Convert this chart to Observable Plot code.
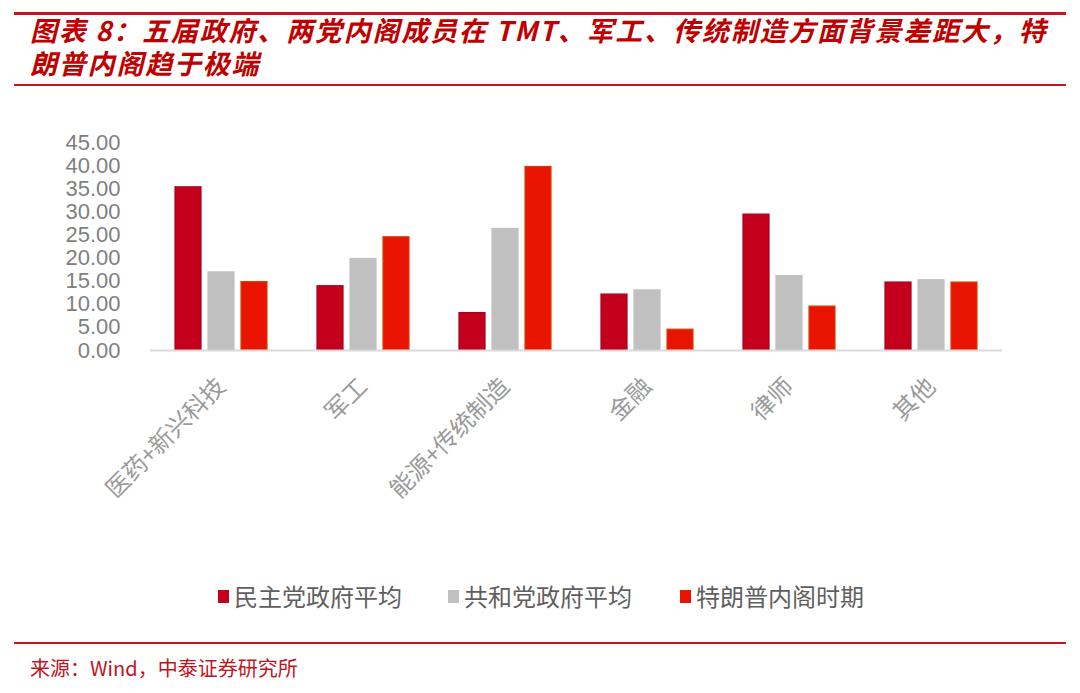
<!DOCTYPE html>
<html><head><meta charset="utf-8">
<script src="https://cdn.jsdelivr.net/npm/d3@7"></script>
<script src="https://cdn.jsdelivr.net/npm/@observablehq/plot@0.6"></script>
<style>
body{margin:0;background:#fff;width:1080px;height:693px;position:relative;overflow:hidden;font-family:"Noto Sans CJK SC",sans-serif}
.rule{position:absolute;left:14px;width:1052px;background:#c8141e}
.title{position:absolute;left:30px;color:#c00000;font-weight:bold;font-style:italic;font-size:27px;line-height:30px;height:30px;white-space:nowrap;letter-spacing:1.8px}
#chart{position:absolute;left:0;top:100px}
#legend{position:absolute;top:578px;left:0;width:1080px;height:36px}
.li{position:absolute;top:0;display:flex;align-items:center;font-size:24px;color:#5f5f5f;line-height:36px}
.sw{display:inline-block;width:11px;height:13px;margin-right:5px}
#source{position:absolute;left:30px;top:653px;color:#c0141e;font-size:20px;font-family:"Noto Sans CJK SC",serif}
</style></head>
<body>
<div class="rule" style="top:12px;height:3px"></div>
<div class="title" style="top:15px">图表 8：五届政府、两党内阁成员在 TMT、军工、传统制造方面背景差距大，特</div>
<div class="title" style="top:48px">朗普内阁趋于极端</div>
<div class="rule" style="top:84px;height:2px"></div>
<div id="chart"></div>
<div id="legend"></div>
<div class="rule" style="top:642px;height:2px"></div>
<div id="source">来源：Wind，中泰证券研究所</div>
<script>
const categories = ["医药+新兴科技", "军工", "能源+传统制造", "金融", "律师", "其他"];
const seriesNames = ["民主党政府平均", "共和党政府平均", "特朗普内阁时期"];
const demValues = [35.3, 13.9, 8.1, 12.1, 29.4, 14.7];
const repValues = [16.9, 19.8, 26.3, 13.0, 16.1, 15.2];
const trumpValues = [14.8, 24.5, 39.7, 4.5, 9.5, 14.7];
const yTicks = [0, 5, 10, 15, 20, 25, 30, 35, 40, 45];
const colors = ["#c4001c", "#c0c0c0", "#e81400"];
const strokes = ["#a8001e", "#c0c0c0", "#d84000"];

const data = [];
categories.forEach((c, i) => {
  [demValues, repValues, trumpValues].forEach((arr, k) => {
    data.push({category: c, series: seriesNames[k], value: arr[i]});
  });
});

const chart = Plot.plot({
  width: 1080,
  height: 420,
  marginLeft: 150,
  marginRight: 78,
  marginTop: 42,
  marginBottom: 170,
  style: {background: "transparent", fontFamily: "Noto Sans CJK SC, sans-serif"},
  fx: {domain: categories, paddingInner: 0.35, paddingOuter: 0.175, label: null},
  x: {domain: seriesNames, paddingInner: 0.22, paddingOuter: 0, axis: null},
  y: {domain: [0, 45], ticks: yTicks, label: null, axis: null},
  color: {domain: seriesNames, range: colors},
  marks: [
    Plot.barY(data, {fx: "category", x: "series", y: "value", fill: "series",
      stroke: d => strokes[seriesNames.indexOf(d.series)], strokeWidth: 1.2}),
    Plot.ruleY([0], {stroke: "#d9d9d9", strokeWidth: 2, insetLeft: -25, insetRight: -25}),
    Plot.axisY({ticks: yTicks, tickSize: 0, tickPadding: 55, tickFormat: d => d.toFixed(2),
      fontSize: 22, fill: "#7f7f7f", fontFamily: "Liberation Sans, sans-serif", label: null}),
    Plot.axisFx({anchor: "bottom", tickSize: 0, tickPadding: 32, tickRotate: -45, fontSize: 24,
      fill: "#9a9a9a", label: null, lineWidth: 100, textOverflow: null})
  ]
});
document.getElementById("chart").appendChild(chart);

const legend = document.getElementById("legend");
const lefts = [218, 448, 680];
seriesNames.forEach((s, k) => {
  const item = document.createElement("div");
  item.className = "li";
  item.style.left = lefts[k] + "px";
  item.innerHTML = `<span class="sw" style="background:${colors[k]}"></span>${s}`;
  legend.appendChild(item);
});
</script>
</body></html>
